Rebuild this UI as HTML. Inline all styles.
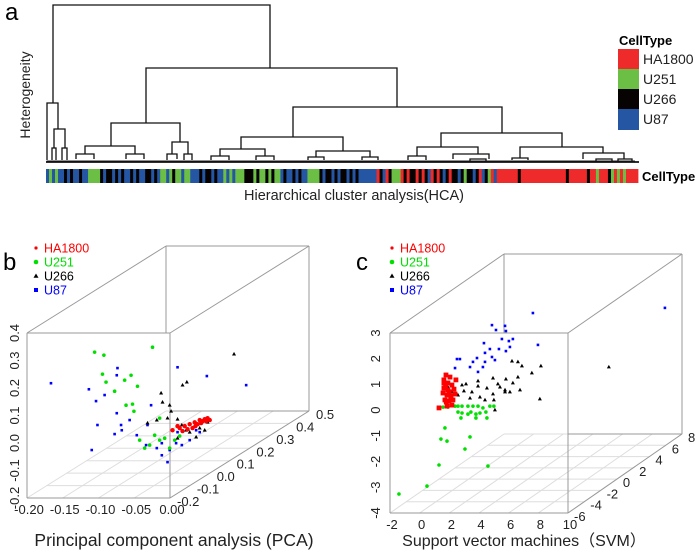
<!DOCTYPE html>
<html><head><meta charset="utf-8">
<style>
html,body{margin:0;padding:0;background:#fff;}
svg{display:block;font-family:"Liberation Sans","Noto Sans CJK SC",sans-serif;}
</style></head>
<body>
<svg id="fig" width="700" height="555" viewBox="0 0 700 555" xmlns="http://www.w3.org/2000/svg">
  <g id="panelA">
    <text x="5" y="20" font-size="24">a</text>
    <text transform="translate(30,95) rotate(-90)" text-anchor="middle" font-size="14" fill="#222">Heterogeneity</text>
    <g id="dendro"></g>
    <g id="cbar"></g>
    <text x="642" y="181" font-size="13" font-weight="bold">CellType</text>
    <text x="354" y="200" text-anchor="middle" font-size="14.5" fill="#222">Hierarchical cluster analysis(HCA)</text>
    <g>
      <text x="619" y="45" font-size="13" font-weight="bold">CellType</text>
      <rect x="618" y="49" width="21" height="20" fill="#ee2a2a"/>
      <rect x="618" y="69" width="21" height="20" fill="#6cbf45"/>
      <rect x="618" y="89" width="21" height="20" fill="#070303"/>
      <rect x="618" y="109" width="21" height="21" fill="#2456a4"/>
      <text x="643" y="64" font-size="14" fill="#222">HA1800</text>
      <text x="643" y="84" font-size="14" fill="#222">U251</text>
      <text x="643" y="104" font-size="14" fill="#222">U266</text>
      <text x="643" y="124" font-size="14" fill="#222">U87</text>
    </g>
  </g>
  <g id="panelB"></g>
  <g id="panelC"></g>
</svg>
<script>
// ---------- Panel a data ----------
const dendroNodes = [ // [leftLeaf, rightLeaf, height, leftChildHeight, rightChildHeight]
  [7,224,157,59,94],[1,12,59,2,33],[8,19,33,14,14],[6,10,14,2,2],[16,21,14,2,2],
  [100,351,94,39,55],[65,134,39,16,20],[39,89,16,8,8],[126,142,20,8,8],
  [30,48,8,3,3],[80,98,8,3,3],[121,131,8,2,3],[138,146,8,2,2],
  [247,456,55,25,29],[195,297,25,13,11],[395,516,29,15,15],
  [174,219,13,6,6],[270,324,11,5,5],[371,432,15,6,8],[474,557,15,4,9],
  [407,443,8,3,3],[537,578,9,3,3],[165,183,6,2,2],[210,228,6,2,2],
  [262,278,5,2,2],[316,332,5,2,2],[362,380,6,2,2],[424,440,3,1,1],
  [466,482,4,2,2],[550,566,3,1,1],[572,586,3,1,1]
];
const barCodes = "BGBGBB"+"KBK"+"BBKBB"+"GGGG"+"KBKKBK"+"BKBBKBKBB"+"KKBKB"+"GGBGKGGBGG"+"BBB"+"KBKKBKB"+"BGBGB"+"GGG"+"KKK"+"GKGGKGKGG"+"BKBBKBKBB"+"GGGG"+"KBKKBKBKKBKBKB"+"BBBBB"+"RKBRK"+"GGG"+"RKRKKRKRKBRKRKB"+"KRKKBKGKKBKRBKGRB"+"RRRRRRRKRRRRRRRRRRRRRRRKRRRRRRKRRGRRRKGRGRGRRRR";
const barColors = {R:"#ee2a2a",G:"#6cbf45",K:"#070303",B:"#2456a4"};

// ---------- Panel b data (PCA) ----------
const pcaGreenX=[-0.161,-0.148,-0.080,-0.150,-0.145,-0.133,-0.119,-0.110,-0.101,-0.117,-0.108,-0.106,-0.070,-0.070,-0.098,-0.084,-0.056,-0.063,-0.049,-0.077,-0.091,-0.042];
const pcaGreenY=[0.240,0.229,0.258,0.160,0.131,0.098,0.138,0.156,0.116,0.047,0.051,0.025,0.0,-0.080,-0.080,-0.098,-0.109,-0.073,-0.080,-0.062,-0.109,-0.065];
const pcaBlueX=[-0.222,-0.169,-0.159,-0.147,-0.130,-0.129,-0.045,-0.004,0.051,-0.130,-0.124,-0.082,-0.087,-0.165,-0.133,-0.123,-0.102,-0.089,-0.067,-0.056,-0.067,-0.047,-0.039,-0.028,-0.019,-0.059,-0.074,-0.045,-0.014,-0.112,-0.157];
const pcaBlueY=[0.127,0.105,0.062,0.084,0.156,0.182,0.185,0.153,0.120,0.018,-0.025,0.047,-0.025,-0.116,-0.058,-0.044,-0.062,-0.098,-0.135,-0.116,-0.091,-0.091,-0.098,-0.080,-0.044,-0.160,-0.109,-0.051,-0.051,-0.007,-0.025];
const pcaBlackX=[0.034,-0.038,-0.032,-0.068,-0.066,-0.056,-0.054,-0.059,-0.045,-0.087,-0.074,-0.033,-0.045,-0.028,-0.014,-0.003,-0.019,-0.039,-0.007];
const pcaBlackY=[0.233,0.120,0.131,0.091,0.058,0.047,0.025,0.0,-0.004,-0.018,-0.007,-0.044,-0.073,-0.051,-0.036,-0.015,-0.069,-0.025,-0.044];
const pcaRedX=[-0.052,-0.045,-0.035,-0.028,-0.021,-0.014,-0.007,-0.003,-0.024,-0.017,-0.010,-0.031,-0.038,-0.020,-0.012,-0.005,-0.042,0.0];
const pcaRedY=[-0.044,-0.029,-0.029,-0.022,-0.015,-0.007,-0.004,0.0,-0.036,-0.022,-0.011,-0.040,-0.047,-0.029,-0.018,-0.011,-0.036,-0.007];
const pcaDepth=0.0;
const pcaXTicks=[-0.20,-0.15,-0.10,-0.05,0.00];
const pcaXTickLabels=["-0.20","-0.15","-0.10","-0.05","0.00"];
const pcaYTicks=[-0.2,-0.1,0.0,0.1,0.2,0.3,0.4];
const pcaYTickLabels=["-0.2","-0.1","0.0","0.1","0.2","0.3","0.4"];
const pcaZTicks=[-0.2,-0.1,0.0,0.1,0.2,0.3,0.4,0.5];
const pcaZTickLabels=["-0.2","-0.1","0.0","0.1","0.2","0.3","0.4","0.5"];

// ---------- Panel c data (SVM) ----------
const svmBlueX=[4.34,13.24,4.68,1.58,2.46,1.85,2.99,2.72,1.04,1.44,2.05,2.52,2.79,1.11,0.57,0.30,1.78,1.11,-0.91,0.10,0.64,0.97,2.52,2.25,-0.58,1.58,-0.78];
const svmBlueY=[2.46,2.66,1.22,1.99,1.96,1.80,1.45,1.37,1.29,1.06,1.06,0.98,1.14,0.91,0.71,0.56,0.63,0.56,0.32,0.36,0.17,0.36,1.76,1.45,0.67,0.75,0.67];
const svmBlackX=[9.46,2.93,3.33,3.60,3.33,1.65,4.27,4.88,0.64,1.98,2.52,2.46,0.64,1.24,0.23,-0.17,0.77,1.65,2.12,2.46,3.47,2.99,-1.12,-0.71,-0.31,0.10,1.11,1.71,2.79,4.81,1.78,-0.44,-1.39];
const svmBlackY=[0.36,0.59,0.56,0.40,-0.03,-0.07,0.13,0.40,-0.18,-0.30,-0.11,-0.53,-0.38,-0.46,-0.61,-0.30,-0.81,-0.69,-0.42,-0.61,-0.53,-0.26,-0.61,-0.73,-0.57,-0.85,-0.92,-0.92,-0.61,-0.88,-1.31,-0.34,-0.42];
const svmRedX=[-1.52,-1.25,-1.66,-1.39,-1.12,-1.66,-1.39,-0.98,-1.72,-1.45,-1.18,-0.91,-1.59,-1.32,-1.05,-1.45,-1.12,-1.99,-1.66,-0.85,-1.55,-1.30,-1.20,-1.50];
const svmRedY=[0.05,-0.03,-0.26,-0.26,-0.34,-0.46,-0.53,-0.50,-0.65,-0.73,-0.77,-0.69,-0.92,-0.96,-0.92,-1.16,-1.12,-1.23,-0.14,-0.14,-0.40,-0.60,-0.85,-1.00];
const svmGreenX=[-1.72,-1.39,-0.91,-0.71,-0.44,-0.04,0.30,0.64,0.97,1.44,1.71,-0.71,-0.44,-0.04,0.16,0.50,0.77,1.17,1.24,0.50,-0.51,-1.59,-1.86,-1.45,0.10,-0.24,-1.99,1.31,-2.80,-4.69];
const svmGreenY=[-1.20,-1.20,-1.16,-1.16,-1.16,-1.16,-1.16,-1.16,-1.23,-1.16,-1.16,-1.39,-1.43,-1.47,-1.39,-1.47,-1.43,-1.39,-1.62,-1.62,-1.62,-2.01,-2.44,-2.52,-2.36,-2.83,-3.45,-3.49,-4.27,-4.58];
const svmDepth=0;
const svmXTicks=[-2,0,2,4,6,8,10];
const svmXTickLabels=["-2","0","2","4","6","8","10"];
const svmYTicks=[-4,-3,-2,-1,0,1,2,3];
const svmYTickLabels=["-4","-3","-2","-1","0","1","2","3"];
const svmZTicks=[-6,-4,-2,0,2,4,6,8];
const svmZTickLabels=["-6","-4","-2","0","2","4","6","8"];

const NS="http://www.w3.org/2000/svg";
function mk(tag, attrs, parent){
  const e=document.createElementNS(NS,tag);
  for(const k in attrs) e.setAttribute(k,attrs[k]);
  parent.appendChild(e); return e;
}

// ---------- Draw dendrogram ----------
(function(){
  const g=document.getElementById('dendro');
  const x0=46, base=162;
  const lx=l=>x0+l, hy=h=>base-h;
  // dense leaf-level branches
  for(let i=0;i<196;i++){
    const l=1+i*3, h=1+((i*5)%5);
    const p=mk('path',{d:`M${lx(l)},${base} V${hy(h)} H${lx(l+2.5)} V${base}`,fill:'none',stroke:'#222','stroke-width':0.9},g);
    
    
  }
  const bl=mk('line',{x1:x0,y1:base,x2:x0+593,y2:base,stroke:'#111','stroke-width':1.8},g);
  
  
  dendroNodes.forEach(n=>{
    const p=mk('path',{d:`M${lx(n[0])},${hy(n[3])} V${hy(n[2])} H${lx(n[1])} V${hy(n[4])}`,fill:'none',stroke:'#111','stroke-width':1.3},g);
    
    
  });
  const cb=document.getElementById('cbar');
  const w=592/barCodes.length;
  for(let i=0;i<barCodes.length;i++){
    const r=mk('rect',{x:46+i*w,y:169,width:w+0.4,height:14,fill:barColors[barCodes[i]]},cb);
    
    
  }
})();

// ---------- 3D scatter helper ----------
function panel3d(gid,cfg){
  const g=document.getElementById(gid);
  const P=(x,y,z)=>{
    const fx=(x-cfg.xr[0])/(cfg.xr[1]-cfg.xr[0]);
    const fy=(y-cfg.yr[0])/(cfg.yr[1]-cfg.yr[0]);
    const fz=(z-cfg.zr[0])/(cfg.zr[1]-cfg.zr[0]);
    return [cfg.ox+fx*cfg.w+fz*cfg.dx, cfg.oy-fy*cfg.h+fz*cfg.dy];
  };
  const line=(a,b,col,name)=>{
    const l=mk('line',{x1:a[0],y1:a[1],x2:b[0],y2:b[1],stroke:col,'stroke-width':1},g);
    
    
  };
  const [x0,x1]=cfg.xr,[y0,y1]=cfg.yr,[z0,z1]=cfg.zr;
  cfg.xt.forEach(v=>line(P(v,y0,z0),P(v,y0,z1),'#ddd','floor-grid-line'));
  cfg.zt.forEach(v=>line(P(x0,y0,v),P(x1,y0,v),'#ddd','floor-grid-line'));
  const box='#999';
  line(P(x0,y0,z0),P(x1,y0,z0),box,'box-edge');
  line(P(x0,y1,z0),P(x1,y1,z0),box,'box-edge');
  line(P(x0,y0,z0),P(x0,y1,z0),box,'box-edge');
  line(P(x1,y0,z0),P(x1,y1,z0),box,'box-edge');
  line(P(x0,y1,z1),P(x1,y1,z1),box,'box-edge');
  line(P(x1,y0,z1),P(x1,y1,z1),box,'box-edge');
  line(P(x1,y0,z0),P(x1,y0,z1),box,'box-edge');
  line(P(x0,y1,z0),P(x0,y1,z1),box,'box-edge');
  line(P(x1,y1,z0),P(x1,y1,z1),box,'box-edge');
  line(P(x0,y1,z1),[P(x0,y1,z1)[0],P(x0,y1,z0)[1]],box,'box-edge');
  line(P(x1,y0,z1),[P(x1,y0,z0)[0],P(x1,y0,z1)[1]],box,'box-edge');
  cfg.xt.forEach((v,i)=>{const p=P(v,y0,z0);
    const t=mk('text',{x:p[0]+2,y:p[1]+cfg.xlab,'text-anchor':'middle','font-size':13,fill:'#222'},g);t.textContent=cfg.xl[i];
    
    });
  cfg.yt.forEach((v,i)=>{const p=P(x0,v,z0);
    const t=mk('text',{transform:`translate(${p[0]-cfg.ylab},${p[1]}) rotate(-90)`,'text-anchor':'middle','font-size':13,fill:'#222'},g);t.textContent=cfg.yl[i];
    
    });
  cfg.zt.forEach((v,i)=>{const p=P(x1,y0,v);
    const t=mk('text',{x:p[0]+cfg.zlx,y:p[1]+8,'font-size':13,fill:'#222'},g);t.textContent=cfg.zl[i];
    
    });
  cfg.series.forEach(s=>{
    s.xs.forEach((xv,i)=>{
      const p=P(xv,s.ys[i],cfg.depth);
      let e;
      if(s.shape==='tri') e=mk('path',{d:`M${p[0]},${p[1]-2.2} L${p[0]+2},${p[1]+1.4} L${p[0]-2},${p[1]+1.4}Z`,fill:s.color},g);
      else if(s.shape==='sq') e=mk('rect',{x:p[0]-s.r,y:p[1]-s.r,width:2*s.r,height:2*s.r,fill:s.color},g);
      else e=mk('circle',{cx:p[0],cy:p[1],r:s.r,fill:s.color},g);
      
      
    });
  });
}

panel3d('panelB',{xr:[-0.2,0.0],yr:[-0.2,0.4],zr:[-0.2,0.5],ox:27,oy:498,w:143,h:165,dx:139,dy:-87,depth:pcaDepth,
  xt:pcaXTicks,xl:pcaXTickLabels,yt:pcaYTicks,yl:pcaYTickLabels,zt:pcaZTicks,zl:pcaZTickLabels,xlab:16,ylab:8,zlx:7,
  series:[
    {xs:pcaBlueX,ys:pcaBlueY,color:'#0000ff',shape:'sq',r:1.3,name:'pca-point-u87'},
    {xs:pcaGreenX,ys:pcaGreenY,color:'#00e000',shape:'circle',r:1.8,name:'pca-point-u251'},
    {xs:pcaBlackX,ys:pcaBlackY,color:'#000',shape:'tri',r:2,name:'pca-point-u266'},
    {xs:pcaRedX,ys:pcaRedY,color:'#ff0000',shape:'circle',r:2.2,name:'pca-point-ha1800'}
  ]});
panel3d('panelC',{xr:[-2,10],yr:[-4,3],zr:[-6,8],ox:390,oy:513,w:178,h:180,dx:114,dy:-79,depth:svmDepth,
  xt:svmXTicks,xl:svmXTickLabels,yt:svmYTicks,yl:svmYTickLabels,zt:svmZTicks,zl:svmZTickLabels,xlab:16,ylab:10,zlx:6,
  series:[
    {xs:svmBlueX,ys:svmBlueY,color:'#0000ff',shape:'sq',r:1.3,name:'svm-point-u87'},
    {xs:svmGreenX,ys:svmGreenY,color:'#00e000',shape:'circle',r:1.8,name:'svm-point-u251'},
    {xs:svmBlackX,ys:svmBlackY,color:'#000',shape:'tri',r:2,name:'svm-point-u266'},
    {xs:svmRedX,ys:svmRedY,color:'#ff0000',shape:'sq',r:2.4,name:'svm-point-ha1800'}
  ]});

function addStatic(gid,lx,letter,letterX,titleX,title,fs){
  const g=document.getElementById(gid);
  const L=mk('text',{x:letterX,y:270,'font-size':24},g);L.textContent=letter;
  
  
  const T=mk('text',{x:titleX,y:546,'text-anchor':'middle','font-size':fs,fill:'#222'},g);T.textContent=title;
  
  
  const items=[["HA1800","#ff0000",'dot',248],["U251","#00e000",'circle',262],["U266","#000",'tri',276],["U87","#0000ff",'sq',290]];
  items.forEach(it=>{
    let m;
    if(it[2]==='tri') m=mk('path',{d:`M${lx},${it[3]-2.5} L${lx+2.5},${it[3]+1.8} L${lx-2.5},${it[3]+1.8}Z`,fill:it[1]},g);
    else if(it[2]==='sq') m=mk('rect',{x:lx-2,y:it[3]-2,width:4,height:4,fill:it[1]},g);
    else m=mk('circle',{cx:lx,cy:it[3],r:it[2]==='dot'?1.6:2.3,fill:it[1]},g);
    
    
    const t=mk('text',{x:lx+8,y:it[3]+4.5,'font-size':12.5,fill:it[1]},g);t.textContent=it[0];
    
    
  });
}
addStatic('panelB',36,'b',3,174,'Principal component analysis (PCA)',17.5);
addStatic('panelC',392,'c',356,524,'Support vector machines（SVM）',16);
</script>
</body></html>
